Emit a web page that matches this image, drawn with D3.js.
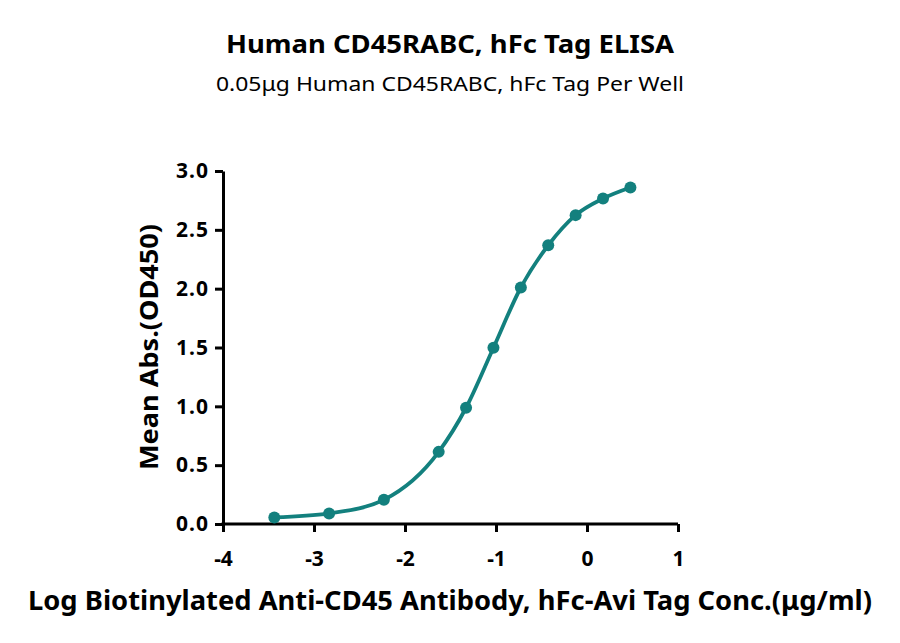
<!DOCTYPE html>
<html>
<head>
<meta charset="utf-8">
<script src="https://cdn.jsdelivr.net/npm/d3@7"></script>
<style>
  html, body { margin: 0; padding: 0; background: #fff; }
  svg text { font-family: "Noto Sans", "Open Sans", sans-serif; fill: #000; }
</style>
</head>
<body>
<div id="chart"></div>
<script>

// log10 concentration (ug/ml), 2x / 4x dilution series
var logConc = [ -3.436, -2.834, -2.232, -1.630, -1.329, -1.028, -0.727, -0.426, -0.125, 0.176, 0.477 ];
var meanAbs = [ 0.056, 0.09, 0.206, 0.613, 0.988, 1.498, 2.01, 2.369, 2.625, 2.766, 2.86 ];
var xTicks = [ -4, -3, -2, -1, 0, 1 ];
var yTicks = [ 0, 0.5, 1, 1.5, 2, 2.5, 3 ];

var title = "Human CD45RABC, hFc Tag ELISA";
var subtitle = "0.05\u03bcg Human CD45RABC, hFc Tag Per Well";
var xTitle = "Log Biotinylated Anti-CD45 Antibody, hFc-Avi Tag Conc.(\u03bcg/ml)";
var yTitle = "Mean Abs.(OD450)";

var width = 900, height = 643;
var color = "#13807e";

var svg = d3.select( "#chart" ).append( "svg" )
  .attr( "width", width )
  .attr( "height", height );

var x = d3.scaleLinear().domain( [ -4, 1 ] ).range( [ 223, 678 ] );
var y = d3.scaleLinear().domain( [ 0, 3 ] ).range( [ 524, 171 ] );

// titles
svg.append( "text" )
  .attr( "x", 450 ).attr( "y", 53 )
  .attr( "text-anchor", "middle" )
  .style( "font-size", "25px" ).style( "font-weight", "bold" )
  .attr( "textLength", 448 ).attr( "lengthAdjust", "spacingAndGlyphs" )
  .text( title );

svg.append( "text" )
  .attr( "x", 450 ).attr( "y", 91 )
  .attr( "text-anchor", "middle" )
  .style( "font-size", "20px" )
  .attr( "textLength", 468 ).attr( "lengthAdjust", "spacingAndGlyphs" )
  .text( subtitle );

// axes
var xAxis = d3.axisBottom( x ).tickValues( xTicks ).tickSize( 8 ).tickSizeOuter( 0 )
  .tickFormat( function( d ) { return String( d ); } );
var yAxis = d3.axisLeft( y ).tickValues( yTicks ).tickSize( 8 ).tickSizeOuter( 0 )
  .tickFormat( d3.format( ".1f" ) );

var gx = svg.append( "g" )
  .attr( "class", "x axis" )
  .attr( "transform", "translate(0," + y( 0 ) + ")" )
  .call( xAxis );
var gy = svg.append( "g" )
  .attr( "class", "y axis" )
  .attr( "transform", "translate(" + x( -4 ) + ",0)" )
  .call( yAxis );

[ gx, gy ].forEach( function( g ) {
  g.select( ".domain" ).attr( "stroke", "#000" ).attr( "stroke-width", 3 );
  g.selectAll( ".tick line" ).attr( "stroke", "#000" ).attr( "stroke-width", 3 );
  g.selectAll( ".tick text" )
    .style( "font-family", "\"Noto Sans\", sans-serif" )
    .style( "font-size", "21px" )
    .style( "font-weight", "bold" )
    .attr( "fill", "#000" );
} );
// let the x axis line reach under the y axis line
gx.select( ".domain" ).attr( "d", "M" + ( x( -4 ) - 1.5 ) + ",0H" + x( 1 ) );
gx.selectAll( ".tick text" ).attr( "y", 42 ).attr( "dy", null );
gy.selectAll( ".tick text" ).attr( "x", -14 ).style( "letter-spacing", "1px" );

// axis titles
svg.append( "text" )
  .attr( "x", 450 ).attr( "y", 610 )
  .attr( "text-anchor", "middle" )
  .style( "font-size", "26px" ).style( "font-weight", "bold" )
  .attr( "textLength", 844 ).attr( "lengthAdjust", "spacingAndGlyphs" )
  .text( xTitle );

svg.append( "text" )
  .attr( "transform", "translate(158,347) rotate(-90)" )
  .attr( "text-anchor", "middle" )
  .style( "font-size", "25px" ).style( "font-weight", "bold" )
  .attr( "textLength", 246 ).attr( "lengthAdjust", "spacingAndGlyphs" )
  .text( yTitle );

// curve + points
var points = logConc.map( function( d, i ) { return [ d, meanAbs[ i ] ]; } );

var line = d3.line()
  .x( function( d ) { return x( d[ 0 ] ); } )
  .y( function( d ) { return y( d[ 1 ] ); } )
  .curve( d3.curveMonotoneX );

svg.append( "path" )
  .datum( points )
  .attr( "fill", "none" )
  .attr( "stroke", color )
  .attr( "stroke-width", 3.8 )
  .attr( "stroke-linejoin", "round" )
  .attr( "d", line );

svg.append( "g" ).selectAll( "circle" )
  .data( points )
  .enter().append( "circle" )
  .attr( "cx", function( d ) { return x( d[ 0 ] ); } )
  .attr( "cy", function( d ) { return y( d[ 1 ] ); } )
  .attr( "r", 6 )
  .attr( "fill", color );

</script>
</body>
</html>
